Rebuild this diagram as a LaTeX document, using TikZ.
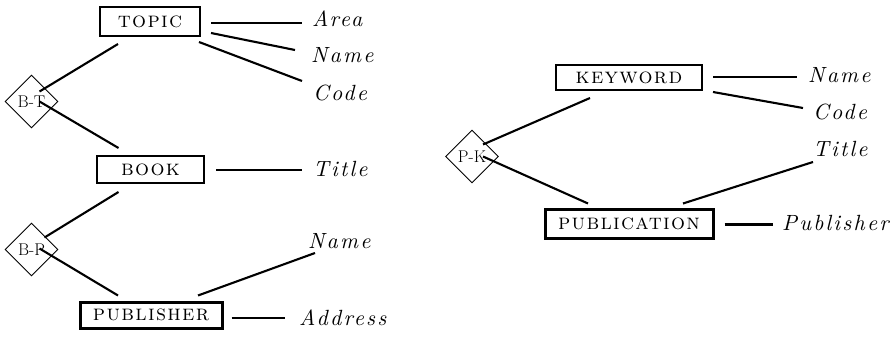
\documentclass[tikz,border=0pt]{standalone}
\usepackage{fontspec}
\newfontfamily\entfont[LetterSpace=6]{lmromancaps10-regular.otf}
\newfontfamily\attfont[LetterSpace=10]{lmroman10-italic.otf}
\usetikzlibrary{shapes.geometric,calc}
\tikzset{
  entity/.style={draw, line width=2pt, inner sep=0pt, font=\entfont\fontsize{22}{22}\selectfont},
  weak/.style={entity, line width=3pt},
  rel/.style={draw, diamond, line width=0.9pt, minimum width=53pt, minimum height=53pt, inner sep=0pt, font=\fontsize{17}{17}\selectfont},
  attr/.style={anchor=base west, inner sep=0pt, font=\attfont\fontsize{22}{22}\selectfont},
  link/.style={line width=2.1pt},
  thicklink/.style={line width=3pt}
}
\begin{document}
\begin{tikzpicture}[x=1pt,y=-1pt]
\useasboundingbox (0,0) rectangle (895,337);

% entities
\node[entity, minimum width=100pt, minimum height=29pt] (topic) at (150,21.5) {topic};
\node[entity, minimum width=107pt, minimum height=27pt] (book) at (150.5,169.5) {book};
\node[weak, minimum width=142pt, minimum height=26pt] (publisher) at (151,315) {publisher};
\node[entity, minimum width=146pt, minimum height=25pt] (keyword) at (629,77.5) {keyword};
\node[weak, minimum width=168pt, minimum height=29pt] (publication) at (629,223.5) {publication};

% relationships
\node[rel] (bt) at (31.5,101.5) {B-T};
\node[rel] (bp) at (31.5,249.5) {B-P};
\node[rel] (pk) at (472,156.5) {P-K};

% attributes
\node[attr] (tarea) at (312,27) {Area};
\node[attr] (tname) at (311,63) {Name};
\node[attr] (tcode) at (313,100) {Code};
\node[attr] (btitle) at (313,176) {Title};
\node[attr] (pname) at (308,248) {Name};
\node[attr] (paddr) at (299,325) {Address};
\node[attr] (kname) at (808,83) {Name};
\node[attr] (kcode) at (813,120) {Code};
\node[attr] (utitle) at (813,157) {Title};
\node[attr] (upub) at (782,230) {Publisher};

% relationship links
\draw[link] ($(bt.center)+(8,-10)$) -- ($(topic.south)+(-32,7)$);
\draw[link] ($(bt.center)+(8,0)$) -- ($(book.north)+(-32,-7)$);
\draw[link] ($(bp.center)+(13,-12)$) -- ($(book.south)+(-32,8)$);
\draw[link] ($(bp.center)+(8,-1)$) -- ($(publisher.north)+(-33,-5)$);
\draw[link] ($(pk.center)+(11,-12)$) -- ($(keyword.south)+(-39,7)$);
\draw[link] ($(pk.center)+(11,0)$) -- ($(publication.north)+(-41,-4)$);

% attribute links
\draw[link] ($(topic.east)+(10,1.5)$) -- ($(tarea.base west)+(-10,-4)$);
\draw[link] ($(topic.east)+(10,11.5)$) -- ($(tname.base west)+(-16,-13)$);
\draw[link] ($(topic.south east)+(-2,5)$) -- ($(tcode.base west)+(-11,-19)$);
\draw[link] ($(book.east)+(11,0.5)$) -- ($(btitle.base west)+(-11,-6)$);
\draw[link] ($(publisher.north)+(47,-5)$) -- ($(pname.base west)+(7,5)$);
\draw[link] ($(publisher.east)+(8,3)$) -- ($(paddr.base west)+(-14,-7)$);
\draw[link] ($(keyword.east)+(10,-0.5)$) -- ($(kname.base west)+(-11,-6)$);
\draw[link] ($(keyword.east)+(10,14.5)$) -- ($(kcode.base west)+(-10,-12)$);
\draw[link] ($(publication.north)+(54,-4)$) -- ($(utitle.base west)+(0,5)$);
\draw[thicklink] ($(publication.east)+(10,0.5)$) -- ($(upub.base west)+(-9,-6)$);
\end{tikzpicture}
\end{document}
